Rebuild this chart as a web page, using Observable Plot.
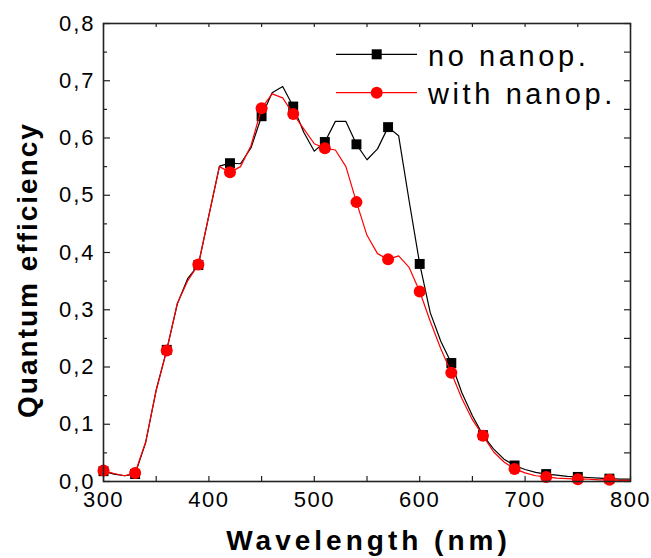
<!DOCTYPE html>
<html><head><meta charset="utf-8">
<script src="https://cdn.jsdelivr.net/npm/d3@7"></script>
<script src="https://cdn.jsdelivr.net/npm/@observablehq/plot@0.6"></script>
<style>
body{margin:0;background:#fff;}
#chart svg{font-family:"Liberation Sans",Arial,sans-serif;}
</style></head><body><div id="chart"></div>
<script>
const wavelength = [300,310,320,330,340,350,360,370,380,390,400,410,420,430,440,450,460,470,480,490,500,510,520,530,540,550,560,570,580,590,600,610,620,630,640,650,660,670,680,690,700,710,720,730,740,750,760,770,780,790,800];
const noNanop = [0.018,0.013,0.010,0.013,0.068,0.160,0.230,0.310,0.355,0.378,0.465,0.551,0.556,0.555,0.583,0.638,0.679,0.690,0.655,0.610,0.577,0.593,0.629,0.629,0.589,0.562,0.581,0.619,0.604,0.490,0.380,0.295,0.245,0.207,0.155,0.115,0.081,0.057,0.039,0.028,0.021,0.016,0.013,0.011,0.009,0.008,0.007,0.006,0.005,0.004,0.004];
const withNanop = [0.019,0.014,0.010,0.015,0.069,0.159,0.229,0.311,0.351,0.379,0.465,0.550,0.540,0.550,0.587,0.652,0.677,0.670,0.642,0.616,0.590,0.582,0.579,0.550,0.488,0.430,0.398,0.388,0.394,0.374,0.332,0.280,0.232,0.190,0.145,0.108,0.080,0.052,0.034,0.022,0.015,0.010,0.008,0.006,0.005,0.004,0.004,0.003,0.003,0.002,0.002];
const markerWavelengths = [300,330,360,390,420,450,480,510,540,570,600,630,660,690,720,750,780];
const xTicks = [300,400,500,600,700,800];
const xMinorTicks = [350,450,550,650,750];
const yTicks = [0,0.1,0.2,0.3,0.4,0.5,0.6,0.7,0.8];
const yMinorTicks = [0.05,0.15,0.25,0.35,0.45,0.55,0.65,0.75];
const seriesNames = ["no nanop.", "with nanop."];
const xLabel = "Wavelength (nm)";
const yLabel = "Quantum efficiency";

const W = 651, H = 558, mL = 103, mR = 21, mT = 23, mB = 77;
const pw = W - mL - mR, ph = H - mT - mB;
const axisColor = "#222";

const rowsA = wavelength.map((w, i) => ({w, v: noNanop[i]}));
const rowsB = wavelength.map((w, i) => ({w, v: withNanop[i]}));
const markA = rowsA.filter(d => markerWavelengths.includes(d.w));
const markB = rowsB.filter(d => markerWavelengths.includes(d.w));
const fmt = d => d3.format(".1f")(d).replace(".", ",");

const chart = Plot.plot({
  width: W, height: H,
  marginLeft: mL, marginRight: mR, marginTop: mT, marginBottom: mB,
  style: {fontFamily: '"Liberation Sans", Arial, sans-serif', color: "#000", background: "#fff"},
  x: {domain: [300, 800]},
  y: {domain: [0, 0.8]},
  marks: [
    Plot.axisX({ticks: xTicks, tickSize: 0, tickPadding: 10, tickFormat: d => String(d), fontSize: 22, label: null}),
    Plot.axisY({ticks: yTicks, tickSize: 0, tickPadding: 8, tickFormat: fmt, fontSize: 22, label: null}),
    Plot.tickY(yTicks, {y: d => d, insetRight: pw - 7, stroke: axisColor, strokeWidth: 1.2}),
    Plot.tickY(yMinorTicks, {y: d => d, insetRight: pw - 4, stroke: axisColor, strokeWidth: 1.2}),
    Plot.tickY(yTicks, {y: d => d, insetLeft: pw - 6, stroke: axisColor, strokeWidth: 1.2}),
    Plot.tickY(yMinorTicks, {y: d => d, insetLeft: pw - 6, stroke: axisColor, strokeWidth: 1.2}),
    Plot.tickX(xTicks, {x: d => d, insetTop: ph - 5, stroke: axisColor, strokeWidth: 1.2}),
    Plot.tickX(xMinorTicks, {x: d => d, insetTop: ph - 5, stroke: axisColor, strokeWidth: 1.2}),
    Plot.tickX(xTicks, {x: d => d, insetBottom: ph - 4, stroke: axisColor, strokeWidth: 1.2}),
    Plot.tickX(xMinorTicks, {x: d => d, insetBottom: ph - 4, stroke: axisColor, strokeWidth: 1.2}),
    Plot.line(rowsA, {x: "w", y: "v", stroke: "#000", strokeWidth: 1.2}),
    Plot.dot(markA, {x: "w", y: "v", symbol: "square", r: 5.6, fill: "#000", stroke: "none"}),
    Plot.line(rowsB, {x: "w", y: "v", stroke: "#ff0000", strokeWidth: 1.2}),
    Plot.dot(markB, {x: "w", y: "v", r: 6, fill: "#ff0000", stroke: "none"}),
    Plot.frame({stroke: axisColor, strokeWidth: 1.6})
  ]
});
document.getElementById("chart").append(chart);

const svg = d3.select(chart);
// widen the axis tick labels like the reference (letter spacing)
chart.querySelectorAll("text").forEach(t => {
  const g = t.closest('[aria-label*="axis"]');
  if (g) {
    const isX = g.getAttribute("aria-label").startsWith("x");
    const ls = isX ? 1.5 : 2;
    t.setAttribute("letter-spacing", String(ls));
    t.style.letterSpacing = ls + "px";
  }
});

// axis titles
svg.append("text")
  .attr("x", (mL + W - mR) / 2 + 2).attr("y", 550)
  .attr("text-anchor", "middle").attr("font-size", 28).attr("font-weight", "bold")
  .attr("letter-spacing", "4").style("letter-spacing", "4px").attr("fill", "#000")
  .text(xLabel);
svg.append("text")
  .attr("transform", "translate(36.5,270) rotate(-90)")
  .attr("text-anchor", "middle").attr("font-size", 28).attr("font-weight", "bold")
  .attr("letter-spacing", "2").style("letter-spacing", "2px").attr("fill", "#000")
  .text(yLabel);

// legend (inside the plot, top right)
const lg = svg.append("g");
const legendColors = ["#000", "#ff0000"];
const rowY = [54.3, 92.7];
seriesNames.forEach((name, i) => {
  lg.append("line").attr("x1", 336).attr("x2", 417).attr("y1", rowY[i]).attr("y2", rowY[i])
    .attr("stroke", legendColors[i]).attr("stroke-width", 1.2);
  if (i === 0) {
    lg.append("rect").attr("x", 376.7 - 5).attr("y", rowY[i] - 5).attr("width", 10).attr("height", 10).attr("fill", legendColors[i]);
  } else {
    lg.append("circle").attr("cx", 376.7).attr("cy", rowY[i]).attr("r", 6).attr("fill", legendColors[i]);
  }
  lg.append("text").attr("x", 428).attr("y", rowY[i] + 11.5).attr("text-anchor", "start")
    .attr("font-size", 29).attr("fill", "#000")
    .attr("letter-spacing", "3.6").style("letter-spacing", "3.6px")
    .text(name);
});
</script>
</body></html>
